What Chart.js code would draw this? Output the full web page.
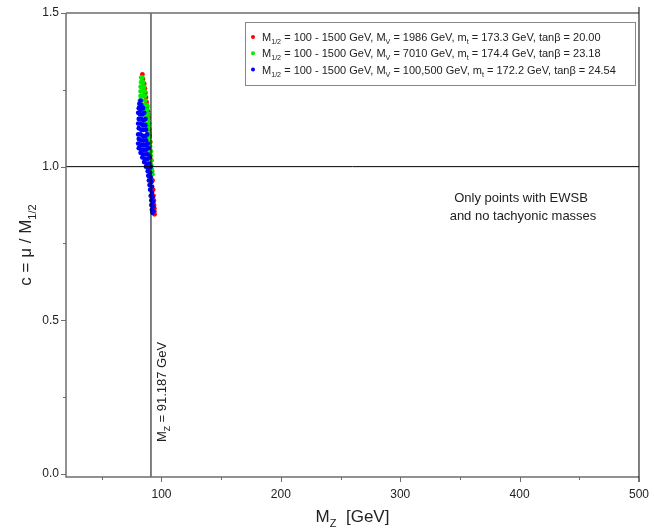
<!DOCTYPE html>
<html>
<head>
<meta charset="utf-8">
<script src="https://cdn.jsdelivr.net/npm/chart.js@4.4.0/dist/chart.umd.min.js"></script>
<style>
  html, body { margin: 0; padding: 0; background: #fff; }
</style>
</head>
<body>
<canvas id="chart" width="654" height="528"></canvas>
<script>
// axis ranges and ticks
const xMin = 20, xMax = 500;
const yMin = -0.01, yMax = 1.5;
const xMajor = [100, 200, 300, 400, 500];
const xMinor = [50, 150, 250, 350, 450];
const yMajor = [0.0, 0.5, 1.0, 1.5];
const yMinor = [0.25, 0.75, 1.25];

// reference lines
const mzLine = 91.187;
const cLine = 1.0;

// legend values
const m12Range = '100 - 1500';
const mvValues = ['1986', '7010', '100,500'];
const mtValues = ['173.3', '174.4', '172.2'];
const tanbValues = ['20.00', '23.18', '24.54'];
const seriesColors = ['#ff0000', '#00ee00', '#0000ff'];

// series 1 (red)
const redX = [84.0, 84.5, 85.5, 86.0, 86.5, 87.0, 87.5, 88.0, 88.5, 89.0, 89.5, 89.8, 90.2, 90.6, 91.0, 91.5, 92.0, 92.5, 93.0, 93.3, 93.6, 93.8, 94.0, 94.0, 94.2];
const redY = [1.300, 1.285, 1.270, 1.255, 1.240, 1.225, 1.210, 1.195, 1.180, 1.160, 1.140, 1.120, 1.100, 1.080, 1.050, 1.020, 0.985, 0.955, 0.925, 0.905, 0.890, 0.875, 0.865, 0.855, 0.845];

// series 2 (green)
const greenX = [83.0, 84.0, 83.0, 84.5, 82.5, 84.0, 85.5, 82.5, 84.0, 86.0, 82.5, 84.0, 86.0, 82.0, 84.0, 86.5, 82.0, 84.0, 86.5, 88.0, 84.0, 86.0, 88.0, 85.5, 87.5, 89.0, 87.0, 89.0, 87.5, 89.5, 88.0, 89.5, 88.5, 90.0, 89.0, 90.0, 89.0, 90.5, 89.5, 90.5, 90.0, 91.0, 90.5, 91.0, 91.0, 91.5, 92.0, 92.5];
const greenY = [1.290, 1.290, 1.275, 1.275, 1.260, 1.260, 1.260, 1.245, 1.245, 1.245, 1.230, 1.230, 1.230, 1.215, 1.215, 1.215, 1.200, 1.200, 1.200, 1.200, 1.185, 1.185, 1.185, 1.170, 1.170, 1.170, 1.155, 1.155, 1.140, 1.140, 1.125, 1.125, 1.110, 1.110, 1.095, 1.095, 1.080, 1.080, 1.065, 1.065, 1.050, 1.050, 1.035, 1.035, 1.020, 1.005, 0.990, 0.975];

// series 3 (blue)
const blueX = [82.5, 81.5, 83.0, 81.0, 82.5, 84.5, 80.5, 82.0, 84.0, 85.5, 81.0, 83.0, 85.0, 86.5, 80.5, 82.5, 84.5, 86.5, 81.0, 83.0, 85.0, 87.0, 80.5, 82.5, 84.5, 86.5, 88.0, 81.0, 83.0, 85.0, 87.0, 80.5, 82.5, 84.5, 86.5, 88.5, 81.0, 83.0, 85.0, 87.0, 89.0, 82.5, 84.5, 86.5, 88.5, 84.0, 86.0, 88.0, 90.0, 85.5, 87.5, 89.5, 87.0, 89.0, 91.0, 88.5, 90.5, 89.0, 91.0, 89.5, 91.5, 90.0, 92.0, 90.5, 92.0, 91.0, 92.5, 91.5, 93.0, 91.5, 93.0, 92.0, 93.0, 92.5];
const blueY = [1.215, 1.205, 1.200, 1.190, 1.185, 1.190, 1.175, 1.170, 1.170, 1.175, 1.155, 1.155, 1.150, 1.155, 1.140, 1.140, 1.135, 1.135, 1.125, 1.120, 1.120, 1.120, 1.105, 1.105, 1.100, 1.100, 1.105, 1.090, 1.085, 1.085, 1.085, 1.075, 1.070, 1.070, 1.070, 1.075, 1.060, 1.055, 1.055, 1.055, 1.060, 1.045, 1.040, 1.040, 1.040, 1.030, 1.025, 1.025, 1.030, 1.015, 1.010, 1.010, 1.000, 0.995, 1.000, 0.985, 0.980, 0.970, 0.965, 0.955, 0.950, 0.940, 0.935, 0.925, 0.915, 0.905, 0.900, 0.890, 0.885, 0.875, 0.870, 0.860, 0.855, 0.850];

function toPoints(xs, ys) {
  return xs.map(function (x, i) { return { x: x, y: ys[i] }; });
}

const FONT = '"Liberation Sans", Arial, sans-serif';

// draws text with subscripts, parts = [[text, isSub], ...]
function richWidth(ctx, parts, size) {
  let w = 0;
  parts.forEach(function (p) {
    ctx.font = (p[1] ? size * 0.65 : size) + 'px ' + FONT;
    w += ctx.measureText(p[0]).width;
  });
  return w;
}

function drawRich(ctx, parts, x, y, size, align) {
  let w = richWidth(ctx, parts, size);
  let cx = x;
  if (align === 'center') cx = x - w / 2;
  ctx.textBaseline = 'alphabetic';
  ctx.textAlign = 'left';
  parts.forEach(function (p) {
    ctx.font = (p[1] ? size * 0.65 : size) + 'px ' + FONT;
    ctx.fillText(p[0], cx, p[1] ? y + size * 0.28 : y);
    cx += ctx.measureText(p[0]).width;
  });
}

const decor = {
  id: 'decor',
  afterDraw(chart) {
    const ctx = chart.ctx;
    const a = chart.chartArea;
    const xs = chart.scales.x, ys = chart.scales.y;
    ctx.save();

    // frame
    ctx.strokeStyle = '#6e6e6e';
    ctx.lineWidth = 1.5;
    ctx.beginPath();
    ctx.moveTo(a.left, a.top); ctx.lineTo(a.left, a.bottom); ctx.lineTo(a.right, a.bottom);
    ctx.moveTo(a.left, a.top); ctx.lineTo(a.right, a.top);
    ctx.stroke();
    ctx.strokeStyle = '#000';
    ctx.lineWidth = 1;
    ctx.beginPath();
    ctx.moveTo(a.right, a.top - 6); ctx.lineTo(a.right, a.bottom + 5);
    ctx.stroke();

    // tick marks
    ctx.strokeStyle = '#6e6e6e';
    ctx.lineWidth = 1;
    ctx.beginPath();
    yMajor.forEach(function (v) { const p = Math.round(ys.getPixelForValue(v)) + 0.5; ctx.moveTo(a.left - 5, p); ctx.lineTo(a.left, p); });
    yMinor.forEach(function (v) { const p = Math.round(ys.getPixelForValue(v)) + 0.5; ctx.moveTo(a.left - 3, p); ctx.lineTo(a.left, p); });
    xMajor.forEach(function (v) { const p = Math.round(xs.getPixelForValue(v)) + 0.5; ctx.moveTo(p, a.bottom); ctx.lineTo(p, a.bottom + 5); });
    xMinor.forEach(function (v) { const p = Math.round(xs.getPixelForValue(v)) + 0.5; ctx.moveTo(p, a.bottom); ctx.lineTo(p, a.bottom + 3); });
    ctx.stroke();

    ctx.fillStyle = '#222';
    // axis titles
    drawRich(ctx, [['M', 0], ['Z', 1], ['  [GeV]', 0]], (a.left + a.right) / 2, 522, 17, 'center');
    ctx.save();
    ctx.translate(31, (a.top + a.bottom) / 2);
    ctx.rotate(-Math.PI / 2);
    drawRich(ctx, [['c = \u03bc / M', 0], ['1/2', 1]], 0, 0, 17, 'center');
    ctx.restore();

    // M_Z label along the vertical line
    ctx.save();
    ctx.translate(xs.getPixelForValue(mzLine) + 15, 392);
    ctx.rotate(-Math.PI / 2);
    drawRich(ctx, [['M', 0], ['Z', 1], [' = 91.187 GeV', 0]], 0, 0, 13, 'center');
    ctx.restore();

    // note
    ctx.font = '13px ' + FONT;
    ctx.textAlign = 'center';
    ctx.textBaseline = 'middle';
    ctx.fillText('Only points with EWSB', 521, 198);
    ctx.fillText('and no tachyonic masses', 523, 216);

    // legend
    ctx.strokeStyle = '#888';
    ctx.lineWidth = 1;
    ctx.strokeRect(245.5, 22.5, 390, 63);
    for (let i = 0; i < 3; i++) {
      const ry = 38 + i * 16.3;
      ctx.fillStyle = seriesColors[i];
      ctx.beginPath();
      ctx.arc(253, ry - 1, 2, 0, Math.PI * 2);
      ctx.fill();
      ctx.fillStyle = '#222';
      drawRich(ctx, [
        ['M', 0], ['1/2', 1], [' = ' + m12Range + ' GeV, M', 0], ['V', 1],
        [' = ' + mvValues[i] + ' GeV, m', 0], ['t', 1],
        [' = ' + mtValues[i] + ' GeV, tan\u03b2 = ' + tanbValues[i], 0]
      ], 262, ry + 3, 11, 'left');
    }
    ctx.restore();
  }
};

function dotSet(xs, ys, color, order) {
  return {
    data: toPoints(xs, ys),
    backgroundColor: color,
    borderWidth: 0,
    pointRadius: 2.4,
    pointHoverRadius: 2.4,
    order: order
  };
}

new Chart(document.getElementById('chart'), {
  type: 'scatter',
  data: {
    datasets: [
      dotSet(redX, redY, seriesColors[0], 4),
      dotSet(greenX, greenY, seriesColors[1], 3),
      dotSet(blueX, blueY, seriesColors[2], 2),
      {
        data: [{ x: xMin, y: cLine }, { x: xMax, y: cLine }],
        showLine: true, borderColor: '#000', borderWidth: 1, pointRadius: 0, order: 1
      },
      {
        data: [{ x: mzLine, y: yMin }, { x: mzLine, y: yMax }],
        showLine: true, borderColor: '#000', borderWidth: 1, pointRadius: 0, order: 1
      }
    ]
  },
  options: {
    responsive: false,
    animation: false,
    devicePixelRatio: 1,
    layout: { padding: { left: 0, right: 12, top: 13, bottom: 0 } },
    plugins: { legend: { display: false }, tooltip: { enabled: false } },
    scales: {
      x: {
        type: 'linear', min: xMin, max: xMax,
        afterBuildTicks: function (s) { s.ticks = xMajor.map(function (v) { return { value: v }; }); },
        afterFit: function (s) { s.height = 51; },
        grid: { display: true, drawOnChartArea: false, drawTicks: true, tickLength: 5, color: 'rgba(0,0,0,0)' },
        border: { display: false },
        ticks: { padding: 5, color: '#222', font: { family: FONT, size: 12 }, maxRotation: 0 }
      },
      y: {
        type: 'linear', min: yMin, max: yMax,
        afterBuildTicks: function (s) { s.ticks = yMajor.map(function (v) { return { value: v }; }); },
        afterFit: function (s) { s.width = 66; },
        grid: { display: true, drawOnChartArea: false, drawTicks: true, tickLength: 5, color: 'rgba(0,0,0,0)' },
        border: { display: false },
        ticks: { padding: 2, color: '#222', font: { family: FONT, size: 12 },
          callback: function (v) { return v.toFixed(1); } }
      }
    }
  },
  plugins: [decor]
});
</script>
</body>
</html>
